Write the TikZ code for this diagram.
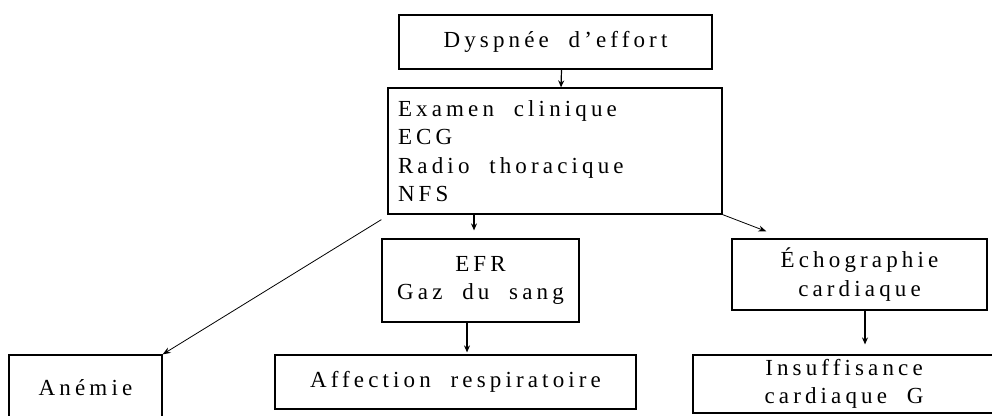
\documentclass[tikz,border=0pt]{standalone}
\usepackage{fontspec}
\setmainfont{Liberation Serif}[LetterSpace=18,WordSpace=2]
\usetikzlibrary{arrows.meta,calc}
\begin{document}
\begin{tikzpicture}[x=1pt,y=-1pt,
  box/.style={draw, line width=1.2pt, inner sep=0pt, align=center, font=\fontsize{23}{28.5}\selectfont},
  arr/.style={-{Stealth[length=7pt,width=6pt]}, line width=1.2pt},
  diag/.style={-{Stealth[length=8pt,width=6pt]}, line width=0.8pt}]
\useasboundingbox (0,0) rectangle (992,415);
\node[box, minimum width=313pt, minimum height=54pt] (top) at (555.5,42) {Dyspnée d’effort};
\node[box, minimum width=334pt, minimum height=126pt, text width=314pt, align=left] (main) at (555,151) {\spaceskip=\fontdimen2\font\relax Examen clinique\\ECG\\Radio thoracique\\NFS};
\node[box, minimum width=197pt, minimum height=83pt] (efr) at (480.5,280.5) {EFR\\Gaz du sang};
\node[box, minimum width=255pt, minimum height=71pt] (echo) at (859.5,274.5) {Échographie\\cardiaque};
\node[box, minimum width=153pt, minimum height=66pt] (anemie) at (85.5,388) {Anémie};
\node[box, minimum width=361pt, minimum height=54pt] (affect) at (455.5,382) {Affection respiratoire};
\node[box, minimum width=302pt, minimum height=58pt] (insuf) at (844,384) {Insuffisance\\cardiaque G};
\draw[arr] ([xshift=6pt]top.south) -- ([xshift=6pt]main.north);
\draw[arr, shorten >=8pt] ([xshift=-81pt]main.south) -- ([xshift=-6.5pt]efr.north);
\draw[arr, shorten >=2pt] ([xshift=-13.5pt]efr.south) -- ([xshift=11.5pt]affect.north);
\draw[arr, shorten >=10pt] ([xshift=5.5pt]echo.south) -- ([xshift=21pt]insuf.north);
\draw[diag] ([shift={(-6pt,-5pt)}]main.south west) -- (anemie.north east);
\coordinate (echotip) at ($(echo.north west)+(35,-7)$);
\draw[diag] (main.south east) -- (echotip);
\end{tikzpicture}
\end{document}
